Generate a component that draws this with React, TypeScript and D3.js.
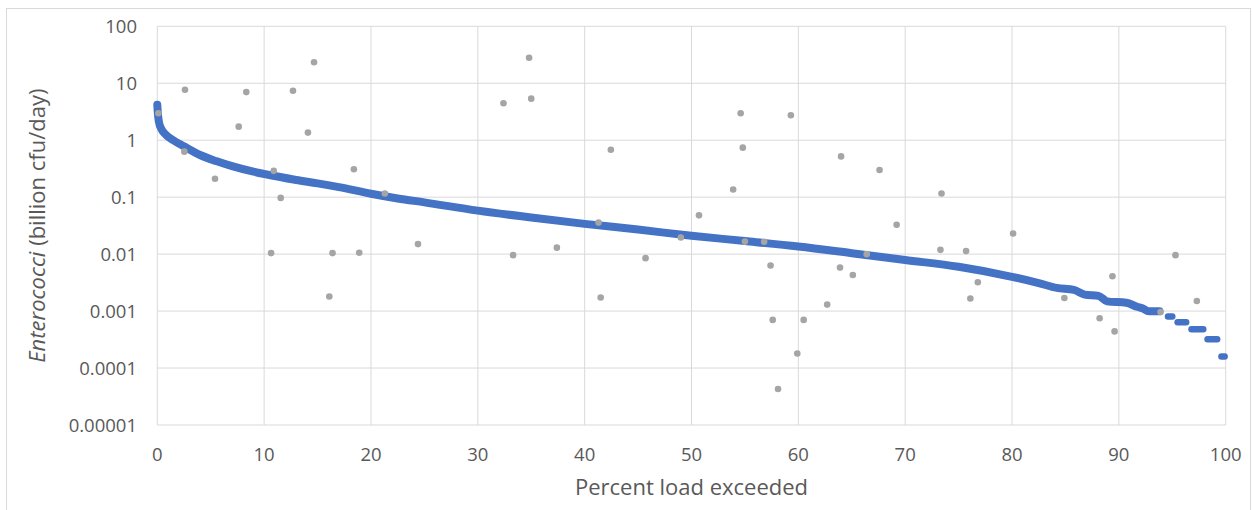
import React, { useEffect, useRef } from "react";
import * as d3 from "d3";

// load duration curve: percent of time exceeded vs load (billion cfu/day)
const curvePct = [0, 0.05, 0.15, 0.4, 0.8, 1.5, 2.5, 4, 5.5, 7, 9, 11, 13, 15, 17, 20, 22.5, 25, 30, 35, 40, 45, 50, 55, 60, 65, 70, 75, 80, 82.5, 84.2, 85.8, 86.8, 88.1, 88.9, 90.7, 91.7, 92.2, 92.8, 93.8];
const curveLoad = [4.2, 3.0, 2.1, 1.55, 1.25, 1.0, 0.78, 0.55, 0.43, 0.35, 0.28, 0.235, 0.2, 0.175, 0.15, 0.115, 0.095, 0.081, 0.058, 0.044, 0.034, 0.027, 0.021, 0.017, 0.0136, 0.0104, 0.0079, 0.006, 0.004, 0.0031, 0.00255, 0.00235, 0.00195, 0.00185, 0.00148, 0.0014, 0.00119, 0.00112, 0.00099, 0.00099];

// low-flow tail, flat runs of the curve
const stepFrom = [94.6, 95.5, 96.8, 98.3, 99.6];
const stepTo = [95.0, 96.3, 97.9, 99.2, 99.9];
const stepLoad = [0.0008, 0.00064, 0.00048, 0.00032, 0.00016];

// observed loads
const obsPct = [0.1, 2.59, 2.53, 5.4, 7.62, 8.33, 10.9, 11.55, 10.65, 12.7, 14.67, 14.1, 16.1, 16.4, 18.4, 18.9, 21.3, 24.4, 32.4, 33.3, 34.8, 35.0, 37.4, 41.3, 41.5, 42.45, 45.7, 49.0, 50.7, 53.9, 54.6, 54.8, 55.0, 56.8, 57.4, 57.6, 58.1, 59.3, 59.9, 60.5, 62.7, 63.9, 64.0, 65.1, 66.4, 67.6, 69.2, 73.3, 73.4, 75.7, 76.1, 76.8, 80.1, 84.9, 88.2, 89.4, 89.6, 93.9, 95.3, 97.3];
const obsLoad = [2.98, 7.7, 0.63, 0.21, 1.73, 7.0, 0.29, 0.097, 0.0104, 7.4, 23.4, 1.36, 0.0018, 0.0104, 0.31, 0.0106, 0.116, 0.015, 4.46, 0.0096, 28.1, 5.37, 0.013, 0.0358, 0.00173, 0.68, 0.0085, 0.0196, 0.048, 0.136, 2.98, 0.74, 0.0166, 0.0165, 0.0063, 0.0007, 0.0000428, 2.75, 0.00018, 0.0007, 0.0013, 0.0058, 0.52, 0.0043, 0.01, 0.3, 0.0327, 0.0119, 0.116, 0.0113, 0.00166, 0.0032, 0.023, 0.0017, 0.00075, 0.0041, 0.00044, 0.00096, 0.0096, 0.0015];

const xTicks = [0, 10, 20, 30, 40, 50, 60, 70, 80, 90, 100];
const yTicks = [0.00001, 0.0001, 0.001, 0.01, 0.1, 1, 10, 100];
const yTickLabels = ["0.00001", "0.0001", "0.001", "0.01", "0.1", "1", "10", "100"];

const App = () => {
  const ref = useRef<SVGSVGElement>(null);

  useEffect(() => {
    const width = 1252;
    const height = 510;
    const left = 157.3, right = 1225.7, top = 26.3, bottom = 425;
    const font = "'Open Sans', sans-serif";
    const grid = "#d9d9d9";
    const textCol = "#595959";

    const svg = d3.select(ref.current);
    svg.selectAll("*").remove();
    svg.attr("width", width).attr("height", height);

    // chart area border
    svg.append("rect")
      .attr("x", 6.5).attr("y", 8.5)
      .attr("width", 1244).attr("height", 520)
      .attr("fill", "white").attr("stroke", grid);

    const x = d3.scaleLinear().domain([0, 100]).range([left, right]);
    const y = d3.scaleLog().domain([0.00001, 100]).range([bottom, top]);

    // gridlines
    svg.append("g").selectAll("line").data(xTicks).enter().append("line")
      .attr("x1", d => x(d)).attr("x2", d => x(d))
      .attr("y1", top).attr("y2", bottom)
      .attr("stroke", grid).attr("stroke-width", 1);
    svg.append("g").selectAll("line").data(yTicks).enter().append("line")
      .attr("x1", left).attr("x2", right)
      .attr("y1", d => y(d)).attr("y2", d => y(d))
      .attr("stroke", grid).attr("stroke-width", 1);

    // tick labels
    svg.append("g").selectAll("text").data(yTicks).enter().append("text")
      .attr("x", 137).attr("y", d => y(d))
      .attr("dy", "0.36em")
      .attr("text-anchor", "end")
      .style("font-family", font).style("font-size", "18.5px")
      .attr("fill", textCol)
      .text((d, i) => yTickLabels[i]);
    svg.append("g").selectAll("text").data(xTicks).enter().append("text")
      .attr("x", d => x(d)).attr("y", 460.5)
      .attr("text-anchor", "middle")
      .style("font-family", font).style("font-size", "18.5px")
      .attr("fill", textCol)
      .text(d => String(d));

    // axis titles
    svg.append("text")
      .attr("x", (left + right) / 2).attr("y", 494.5)
      .attr("text-anchor", "middle")
      .style("font-family", font).style("font-size", "22px")
      .attr("fill", textCol)
      .text("Percent load exceeded");
    const yt = svg.append("text")
      .attr("transform", `translate(45,${(top + bottom) / 2}) rotate(-90)`)
      .attr("text-anchor", "middle")
      .style("font-family", font).style("font-size", "22px")
      .attr("fill", textCol);
    yt.append("tspan").style("font-style", "italic").text("Enterococci");
    yt.append("tspan").text(" (billion cfu/day)");

    // load duration curve
    const pts: [number, number][] = curvePct.map((p, i) => [p, curveLoad[i]]);
    const line = d3.line<[number, number]>()
      .x(d => x(d[0]))
      .y(d => y(d[1]))
      .curve(d3.curveMonotoneX);
    svg.append("path")
      .attr("d", line(pts))
      .attr("fill", "none")
      .attr("stroke", "#4472c4")
      .attr("stroke-width", 8)
      .attr("stroke-linecap", "round")
      .attr("stroke-linejoin", "round");

    svg.append("g").selectAll("line").data(stepLoad).enter().append("line")
      .attr("x1", (d, i) => x(stepFrom[i])).attr("x2", (d, i) => x(stepTo[i]))
      .attr("y1", d => y(d)).attr("y2", d => y(d))
      .attr("stroke", "#4472c4")
      .attr("stroke-width", 6.5)
      .attr("stroke-linecap", "round");

    // observed points
    svg.append("g").selectAll("circle").data(obsLoad).enter().append("circle")
      .attr("cx", (d, i) => x(obsPct[i]))
      .attr("cy", d => y(d))
      .attr("r", 3.3)
      .attr("fill", "#a5a5a5");
  }, []);

  return (
    <svg ref={ref} style={{ position: "absolute", left: 0, top: 0, display: "block" }} />
  );
};

export default App;
